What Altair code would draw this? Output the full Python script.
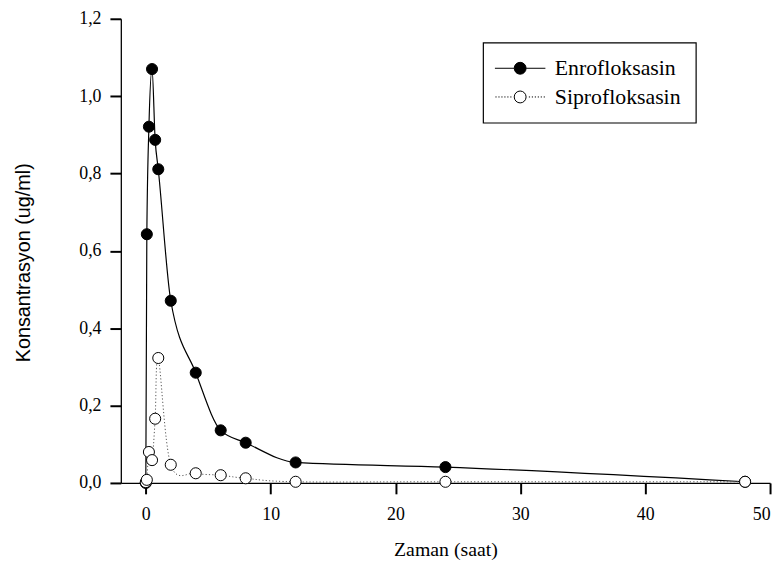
import altair as alt
import pandas as pd

# ---- data ----
times = [0, 0.083, 0.25, 0.5, 0.75, 1, 2, 4, 6, 8, 12, 24, 48]
enro = [0.0, 0.643, 0.921, 1.070, 0.887, 0.811, 0.471, 0.285, 0.136, 0.104, 0.053, 0.041, 0.003]
sipro = [0.002, 0.008, 0.080, 0.059, 0.166, 0.323, 0.047, 0.025, 0.020, 0.012, 0.003, 0.003, 0.003]
series = ["Enrofloksasin", "Siprofloksasin"]
x_ticks = [0, 10, 20, 30, 40, 50]
y_ticks = [0.0, 0.2, 0.4, 0.6, 0.8, 1.0, 1.2]

rows = []
for t, v in zip(times, enro):
    rows.append({"t": t, "c": v, "s": series[0]})
for t, v in zip(times, sipro):
    rows.append({"t": t, "c": v, "s": series[1]})
df = pd.DataFrame(rows)

SERIF = "Liberation Serif, DejaVu Serif, Times New Roman, serif"
SANS = "Liberation Sans, Arial, sans-serif"

xenc = alt.X("t:Q", scale=alt.Scale(domain=[-2, 50], nice=False, zero=False),
             axis=alt.Axis(values=x_ticks, title="Zaman (saat)", format="d",
                           titleFont=SERIF, titleFontSize=20, titleFontWeight="normal",
                           labelFont=SERIF, labelFontSize=18,
                           tickSize=11, labelPadding=12, titlePadding=16))
yenc = alt.Y("c:Q", scale=alt.Scale(domain=[0, 1.2], nice=False),
             axis=alt.Axis(values=y_ticks, title="Konsantrasyon (ug/ml)",
                           labelExpr="replace(format(datum.value, '.1f'), '.', ',')",
                           labelFont=SERIF, labelFontSize=18,
                           tickSize=11, labelPadding=9,
                           titleFont=SANS, titleFontSize=20, titleFontWeight="normal",
                           titlePadding=46, titleY=246))

base = alt.Chart(df)

enro_line = base.transform_filter(alt.datum.s == series[0]).mark_line(
    interpolate="monotone", color="black", strokeWidth=1.2, clip=True
).encode(x=xenc, y=yenc)

sipro_line = base.transform_filter(alt.datum.s == series[1]).mark_line(
    interpolate="cardinal", color="#555555", strokeWidth=1, strokeDash=[1.2, 2.2], clip=True
).encode(x=xenc, y=yenc)

enro_pts = base.transform_filter(alt.datum.s == series[0]).mark_point(
    shape="circle", size=125, filled=True, fill="black", stroke="black", strokeWidth=1, opacity=1
).encode(x=xenc, y=yenc)

sipro_pts = base.transform_filter(alt.datum.s == series[1]).mark_point(
    shape="circle", size=125, filled=True, fill="white", stroke="black", strokeWidth=1, opacity=1
).encode(x=xenc, y=yenc)

# legend symbols: line + circle (solid) and dotted line + circle
def circ(r):
    return f"M{r},0A{r},{r},0,1,1,{-r},0A{r},{r},0,1,1,{r},0Z"

solid_sym = "M-2.55,0L-0.6,0M0.6,0L2.55,0" + circ(0.6)
dots = ""
p = -2.5
while p < -0.7:
    dots += f"M{p:.2f},0L{p + 0.12:.2f},0M{-p - 0.12:.2f},0L{-p:.2f},0"
    p += 0.3
dotted_sym = dots + circ(0.6)

legend_layer = base.transform_filter("false").mark_point(
    size=400, filled=False, strokeWidth=1, opacity=1
).encode(
    shape=alt.Shape("s:N", scale=alt.Scale(domain=series, range=[solid_sym, dotted_sym]),
                    legend=alt.Legend(title=None)),
    fill=alt.Fill("s:N", scale=alt.Scale(domain=series, range=["black", "white"]),
                  legend=alt.Legend(title=None)),
    stroke=alt.Stroke("s:N", scale=alt.Scale(domain=series, range=["black", "black"]),
                      legend=alt.Legend(title=None)),
)

chart = alt.layer(enro_line, sipro_line, enro_pts, sipro_pts, legend_layer).properties(
    width=656, height=469,
    autosize=alt.AutoSizeParams(type="none"),
    padding={"left": 114, "top": 8, "right": 5, "bottom": 78},
).configure_view(stroke=None).configure_axis(
    grid=False,
    domainColor="black", domainWidth=1.3,
    tickColor="black", tickWidth=2,
    labelColor="black", titleColor="black",
).configure_legend(
    orient="none", legendX=366, legendY=24,
    padding=15, rowPadding=7,
    strokeColor="black", strokeWidth=1.2, fillColor="white",
    labelFont=SERIF, labelFontSize=22, labelColor="black", labelLimit=400,
    symbolSize=400, symbolOffset=11.5, labelOffset=24,
    symbolStrokeWidth=1,
)

chart.save("out.html", embed_options={"renderer": "svg", "actions": False})
